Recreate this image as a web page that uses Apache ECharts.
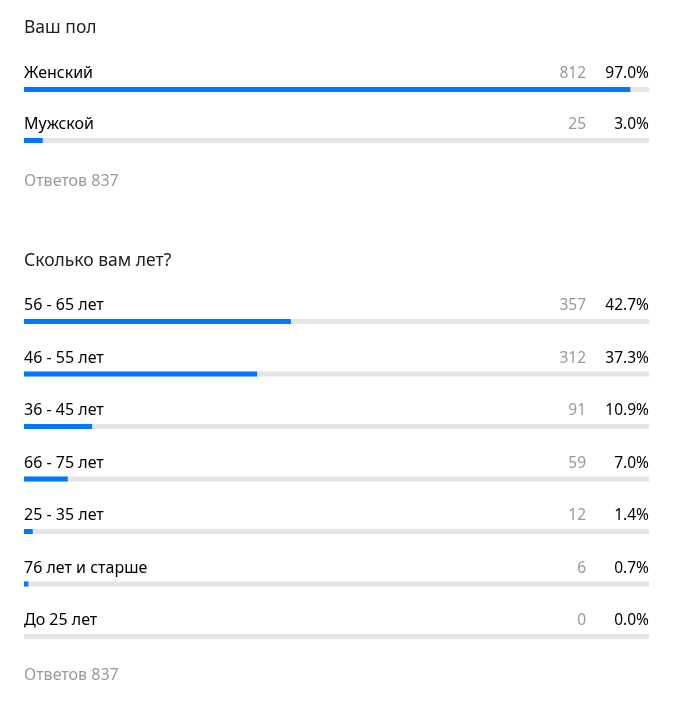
<!DOCTYPE html>
<html><head><meta charset="utf-8">
<script src="https://cdn.jsdelivr.net/npm/echarts@6/dist/echarts.min.js"></script>
<style>html,body{margin:0;padding:0;background:#fff}#c{width:693px;height:703px}</style>
</head><body><div id="c"></div>
<script>
const title1 = "Ваш пол";
const cats1 = ["Женский", "Мужской"];
const counts1 = [812, 25];
const pcts1 = [97.0, 3.0];
const total1 = 837;

const title2 = "Сколько вам лет?";
const cats2 = ["56 - 65 лет", "46 - 55 лет", "36 - 45 лет", "66 - 75 лет", "25 - 35 лет", "76 лет и старше", "До 25 лет"];
const counts2 = [357, 312, 91, 59, 12, 6, 0];
const pcts2 = [42.7, 37.3, 10.9, 7.0, 1.4, 0.7, 0.0];
const total2 = 837;

const FONT = "Noto Sans";
const chart = echarts.init(document.getElementById('c'), null, {renderer: 'canvas'});

function block(idx, cats, counts, pcts) {
  const xAxis = {gridIndex: idx, type: 'value', min: 0, max: 100, show: false};
  const yAxis = {gridIndex: idx, type: 'category', data: cats, inverse: true,
    axisLine: {show: false}, axisTick: {show: false}, splitLine: {show: false},
    axisLabel: {inside: true, margin: 0, verticalAlign: 'bottom', align: 'left',
      padding: [0, 0, 7, 0], fontFamily: FONT, fontSize: 16, color: '#000', lineHeight: 18}};
  const track = {type: 'bar', xAxisIndex: idx, yAxisIndex: idx, barWidth: 5, silent: true,
    data: cats.map(() => 100), itemStyle: {color: '#e5e5e5'}, z: 1,
    label: {show: true, position: ['100%', -4], align: 'right', verticalAlign: 'bottom',
      formatter: p => '{c|' + counts[p.dataIndex] + '}{p|' + pcts[p.dataIndex].toFixed(1) + '%}',
      rich: {c: {fontFamily: FONT, fontSize: 15.5, color: '#999', lineHeight: 18},
             p: {fontFamily: FONT, fontSize: 15.5, color: '#000', width: 63, align: 'right', lineHeight: 18}}}};
  const fill = {type: 'bar', xAxisIndex: idx, yAxisIndex: idx, barWidth: 5, barGap: '-100%', silent: true,
    data: pcts, itemStyle: {color: '#0077ff'}, z: 2};
  return {xAxis, yAxis, series: [track, fill]};
}
const b1 = block(0, cats1, counts1, pcts1);
const b2 = block(1, cats2, counts2, pcts2);

chart.setOption({
  animation: false,
  grid: [
    {left: 24, width: 625, top: 64, height: 102},
    {left: 24, width: 625, top: 295.25, height: 367.5}
  ],
  xAxis: [b1.xAxis, b2.xAxis],
  yAxis: [b1.yAxis, b2.yAxis],
  series: [...b1.series, ...b2.series],
  graphic: [
    {type: 'text', left: 24, top: 19, style: {text: title1, font: '17.5px "' + FONT + '"', fill: '#222'}},
    {type: 'text', left: 24, top: 173, style: {text: 'Ответов ' + total1, font: '16px "' + FONT + '"', fill: '#999'}},
    {type: 'text', left: 24, top: 252, style: {text: title2, font: '17.5px "' + FONT + '"', fill: '#222'}},
    {type: 'text', left: 24, top: 667, style: {text: 'Ответов ' + total2, font: '16px "' + FONT + '"', fill: '#999'}}
  ]
});
</script></body></html>
